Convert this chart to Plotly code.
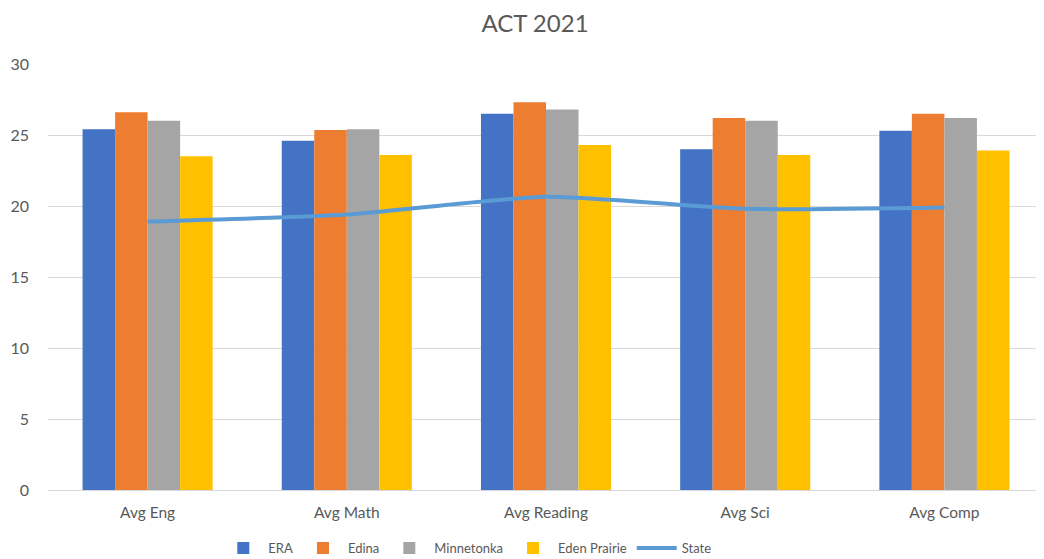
import plotly.graph_objects as go

categories = ["Avg Eng", "Avg Math", "Avg Reading", "Avg Sci", "Avg Comp"]
era = [25.4, 24.6, 26.5, 24.0, 25.3]
edina = [26.6, 25.35, 27.3, 26.2, 26.5]
minnetonka = [26.0, 25.4, 26.8, 26.0, 26.2]
eden_prairie = [23.5, 23.6, 24.3, 23.6, 23.9]
state = [18.9, 19.4, 20.65, 19.8, 19.9]

font_family = "Lato, Open Sans, sans-serif"
gray_text = "#595959"

W, H = 1036, 551  # page body adds an 8px offset

fig = go.Figure()
for name, vals, color in [
    ("ERA", era, "#4472C4"),
    ("Edina", edina, "#ED7D31"),
    ("Minnetonka", minnetonka, "#A5A5A5"),
    ("Eden Prairie", eden_prairie, "#FFC000"),
]:
    fig.add_trace(go.Bar(x=categories, y=vals, name=name, marker_color=color,
                         marker_line_width=0))

fig.add_trace(go.Scatter(x=categories, y=state, name="State", mode="lines",
                         line=dict(color="#5B9BD5", width=4, shape="spline", smoothing=0.6)))

fig.update_layout(
    width=W, height=H,
    paper_bgcolor="white", plot_bgcolor="white",
    margin=dict(l=40, r=0, t=56, b=69, autoexpand=False),
    title=dict(text="ACT 2021", xref="container", x=0.5087, xanchor="center",
               yref="container", y=0.971, yanchor="middle",
               font=dict(family=font_family, size=24, color=gray_text)),
    barmode="group", bargap=0.347, bargroupgap=0,
    font=dict(family=font_family, size=13, color=gray_text),
    legend=dict(orientation="h", x=0.421, xanchor="center",
                yref="container", y=0.02, yanchor="middle",
                font=dict(size=13, color=gray_text), traceorder="normal",
                itemwidth=40),
    xaxis=dict(showgrid=False, showline=False, ticks="", tickfont=dict(size=15.5, color=gray_text),
               range=[-0.5, 4.5], ticklabelstandoff=11),
    yaxis=dict(range=[0, 30], dtick=5, showgrid=True, gridcolor="#D9D9D9", gridwidth=1,
               zeroline=True, zerolinecolor="#D9D9D9", zerolinewidth=1,
               showline=False, ticks="", tickfont=dict(size=16, color=gray_text),
               ticklabelstandoff=18),
)

fig.write_html("out.html")
